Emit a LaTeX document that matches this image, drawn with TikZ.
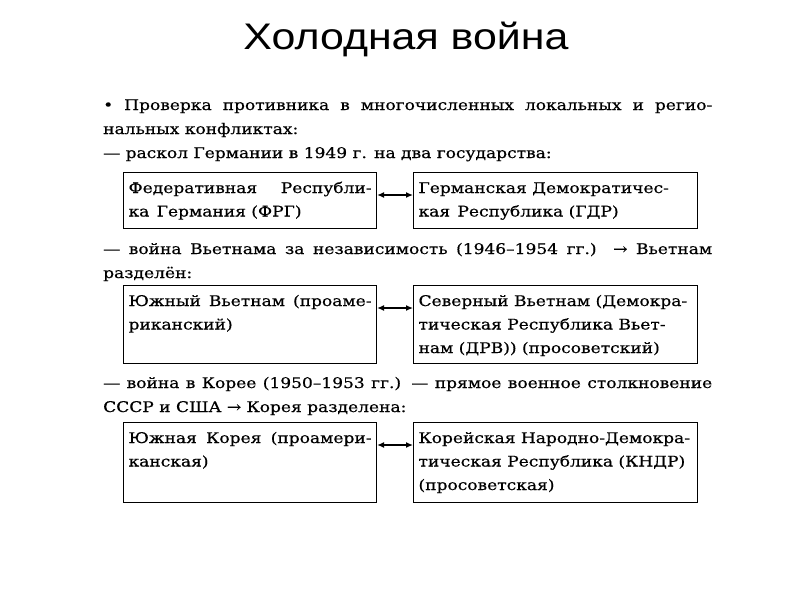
\documentclass[tikz,border=0pt]{standalone}
\usepackage{fontspec}
\setmainfont{DejaVu Serif}[FakeStretch=1.16,FakeBold=0.5]
\newfontfamily\titlefont{Liberation Sans}[FakeStretch=1.16]
\usepackage{tikz}
\usetikzlibrary{arrows.meta}
\newcommand{\jline}[1]{\makebox[\linewidth][s]{#1}}
\newcommand{\wline}[1]{\makebox[609pt][s]{#1}}

\begin{document}
\begin{tikzpicture}[
        x=1pt, y=-1pt,
        every node/.append style={font=\fontsize{14.7}{23.5}\selectfont}
    ]
    \tikzstyle{ln}=[anchor=base west,inner sep=0pt];
    \tikzstyle{box}=[draw,line width=1.1pt,anchor=north west,inner xsep=5pt,inner ysep=4pt];
    \tikzstyle{link}=[{Latex[length=7pt,width=6pt]}-{Latex[length=7pt,width=6pt]},line width=1.3pt];
    \useasboundingbox (0,0) rectangle (800,600);
    \node[anchor=base,font=\titlefont\fontsize{37}{40}\selectfont] (title) at (406,49) {Холодная война};
    % intro
    \node[ln] (l1) at (103,110) {\wline{• Проверка противника в многочисленных локальных и регио-}};
    \node[ln] (l2) at (103,134) {нальных конфликтах:};
    \node[ln] (l3) at (103,158) {— раскол Германии в 1949 г. на два государства:};
    % germany
    \node[box] (frg) at (123,172) {\parbox[c][48pt][t]{243pt}{\strut\jline{Федеративная Республи-}\\ка\enspace Германия (ФРГ)}};
    \node[box] (gdr) at (413,172) {\parbox[c][48pt][t]{274pt}{\strut\mbox{Германская Демократичес-}\\кая\enspace Республика (ГДР)}};
    \draw[link] ([yshift=-23pt]frg.north east) -- ([yshift=-23pt]gdr.north west);
    % vietnam
    \node[ln] (l4) at (103,254) {\wline{— война Вьетнама за независимость (1946–1954 гг.) →\ Вьетнам}};
    \node[ln] (l5) at (103,278) {разделён:};
    \node[box] (svn) at (123,285) {\parbox[c][70pt][t]{243pt}{\strut\jline{Южный Вьетнам (проаме-}\\риканский)}};
    \node[box] (drv) at (413,285) {\parbox[c][70pt][t]{274pt}{\strut\mbox{Северный Вьетнам (Демокра-}\\\mbox{тическая Республика Вьет-}\\\mbox{нам (ДРВ)) (просоветский)}}};
    \draw[link] ([yshift=-23pt]svn.north east) -- ([yshift=-23pt]drv.north west);
    % korea
    \node[ln] (l6) at (103,388) {\wline{— война в Корее (1950–1953 гг.) — прямое военное столкновение}};
    \node[ln] (l7) at (103,412) {СССР и США → Корея разделена:};
    \node[box] (skr) at (123,422) {\parbox[c][72pt][t]{243pt}{\strut\jline{Южная Корея (проамери-}\\канская)}};
    \node[box] (kndr) at (413,422) {\parbox[c][72pt][t]{274pt}{\strut\mbox{Корейская Народно-Демокра-}\\\mbox{тическая Республика (КНДР)}\\(просоветская)}};
    \draw[link] ([yshift=-23pt]skr.north east) -- ([yshift=-23pt]kndr.north west);
\end{tikzpicture}
\end{document}
